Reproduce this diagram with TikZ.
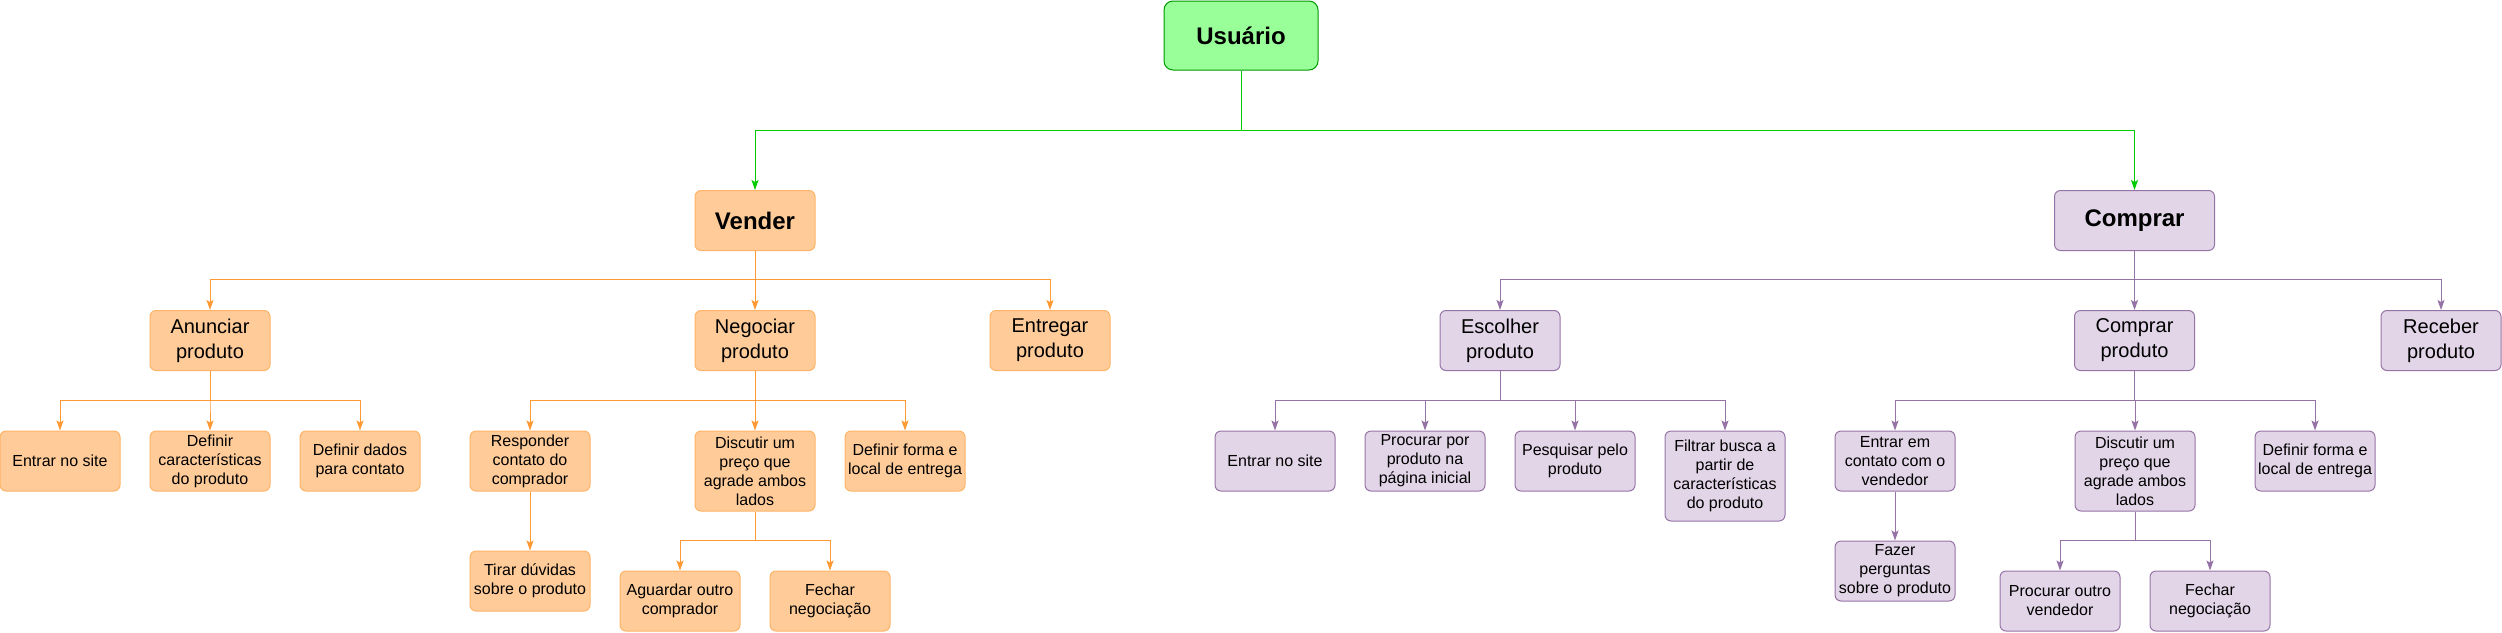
\documentclass[tikz,border=0pt]{standalone}
\usepackage{fontspec}
\setmainfont{Liberation Sans}
\usetikzlibrary{arrows.meta}
\definecolor{gfill}{HTML}{99FF99}
\definecolor{gdraw}{HTML}{009900}
\definecolor{gedge}{HTML}{00CC00}
\definecolor{ofill}{HTML}{FFCC99}
\definecolor{odraw}{HTML}{FFB366}
\definecolor{oedge}{HTML}{FF9933}
\definecolor{pfill}{HTML}{E1D5E7}
\definecolor{pdraw}{HTML}{9673A6}
\definecolor{pedge}{HTML}{9673A6}
\tikzset{
  basebox/.style={rounded corners=6pt, draw, line width=1pt, minimum height=60pt, minimum width=120pt, inner sep=0pt, align=center},
  gbox/.style={basebox, fill=gfill, draw=gdraw, rounded corners=9pt, font=\fontsize{24}{29}\selectfont\bfseries},
  otop/.style={basebox, fill=ofill, draw=odraw, font=\fontsize{24}{29}\selectfont\bfseries},
  ptop/.style={basebox, fill=pfill, draw=pdraw, font=\fontsize{24}{29}\selectfont\bfseries},
  omid/.style={basebox, fill=ofill, draw=odraw, font=\fontsize{20}{25}\selectfont},
  pmid/.style={basebox, fill=pfill, draw=pdraw, font=\fontsize{20}{25}\selectfont},
  olow/.style={basebox, fill=ofill, draw=odraw, font=\fontsize{16}{19}\selectfont},
  plow/.style={basebox, fill=pfill, draw=pdraw, font=\fontsize{16}{19}\selectfont},
  tip/.style={-{Stealth[length=10pt,width=7pt,inset=2pt]}},
  gline/.style={tip, draw=gedge, line width=1pt},
  oline/.style={tip, draw=oedge, line width=1pt},
  pline/.style={tip, draw=pedge, line width=1pt},
}
\begin{document}
\begin{tikzpicture}[x=1pt,y=-1pt]
\useasboundingbox (0,0) rectangle (2502,632);
% top
\node[gbox, minimum width=154pt, minimum height=69pt] (usu) at (1241,35.5) {Usuário};
\node[otop] (vender) at (755,220.5) {Vender};
\node[ptop, minimum width=160pt] (comprar) at (2134.5,220.5) {Comprar};
% level 2
\node[omid] (anunciar) at (210,340.5) {Anunciar\\produto};
\node[omid] (negociar) at (755,340.5) {Negociar\\produto};
\node[omid] (entregar) at (1050,340.5) {Entregar\\produto};
\node[pmid] (escolher) at (1500,340.5) {Escolher\\produto};
\node[pmid] (comprarp) at (2134.5,340.5) {Comprar\\produto};
\node[pmid] (receber) at (2441,340.5) {Receber\\produto};
% level 3 left
\node[olow] (entrar1) at (60,461) {Entrar no site};
\node[olow] (defcar) at (210,461) {Definir\\características\\do produto};
\node[olow] (defdados) at (360,461) {Definir dados\\para contato};
\node[olow] (responder) at (530,461) {Responder\\contato do\\comprador};
\node[olow, minimum height=80pt] (discutir1) at (755,471) {Discutir um\\preço que\\agrade ambos\\lados};
\node[olow] (defforma1) at (905,461) {Definir forma e\\local de entrega};
\node[olow] (tirar) at (530,581) {Tirar dúvidas\\sobre o produto};
\node[olow] (aguardar) at (680,601) {Aguardar outro\\comprador};
\node[olow] (fechar1) at (830,601) {Fechar\\negociação};
% level 3 right
\node[plow] (entrar2) at (1275,461) {Entrar no site};
\node[plow] (procurar) at (1425,461) {Procurar por\\produto na\\página inicial};
\node[plow] (pesquisar) at (1575,461) {Pesquisar pelo\\produto};
\node[plow, minimum height=90pt] (filtrar) at (1725,476) {Filtrar busca a\\partir de\\características\\do produto};
\node[plow] (contato) at (1895,461) {Entrar em\\contato com o\\vendedor};
\node[plow, minimum height=80pt] (discutir2) at (2135,471) {Discutir um\\preço que\\agrade ambos\\lados};
\node[plow] (defforma2) at (2315,461) {Definir forma e\\local de entrega};
\node[plow] (fazer) at (1895,571) {Fazer\\perguntas\\sobre o produto};
\node[plow] (procout) at (2060,601) {Procurar outro\\vendedor};
\node[plow] (fechar2) at (2210,601) {Fechar\\negociação};
% edges: usuario
\draw[gline] (usu.south) -- ++(0,60) -| (vender.north);
\draw[gline] (usu.south) -- ++(0,60) -| (comprar.north);
% vender
\foreach \c in {anunciar,negociar,entregar}
  \draw[oline] (vender.south) -- ++(0,28.5) -| (\c.north);
\foreach \c in {entrar1,defcar,defdados}
  \draw[oline] (anunciar.south) -- ++(0,29.5) -| (\c.north);
\foreach \c in {responder,discutir1,defforma1}
  \draw[oline] (negociar.south) -- ++(0,29.5) -| (\c.north);
\draw[oline] (responder.south) -- (tirar.north);
\foreach \c in {aguardar,fechar1}
  \draw[oline] (discutir1.south) -- ++(0,29) -| (\c.north);
% comprar
\foreach \c in {escolher,comprarp,receber}
  \draw[pline] (comprar.south) -- ++(0,28.5) -| (\c.north);
\foreach \c in {entrar2,procurar,pesquisar,filtrar}
  \draw[pline] (escolher.south) -- ++(0,29.5) -| (\c.north);
\foreach \c in {contato,discutir2,defforma2}
  \draw[pline] (comprarp.south) -- ++(0,29.5) -| (\c.north);
\draw[pline] (contato.south) -- (fazer.north);
\foreach \c in {procout,fechar2}
  \draw[pline] (discutir2.south) -- ++(0,29) -| (\c.north);
\end{tikzpicture}
\end{document}
